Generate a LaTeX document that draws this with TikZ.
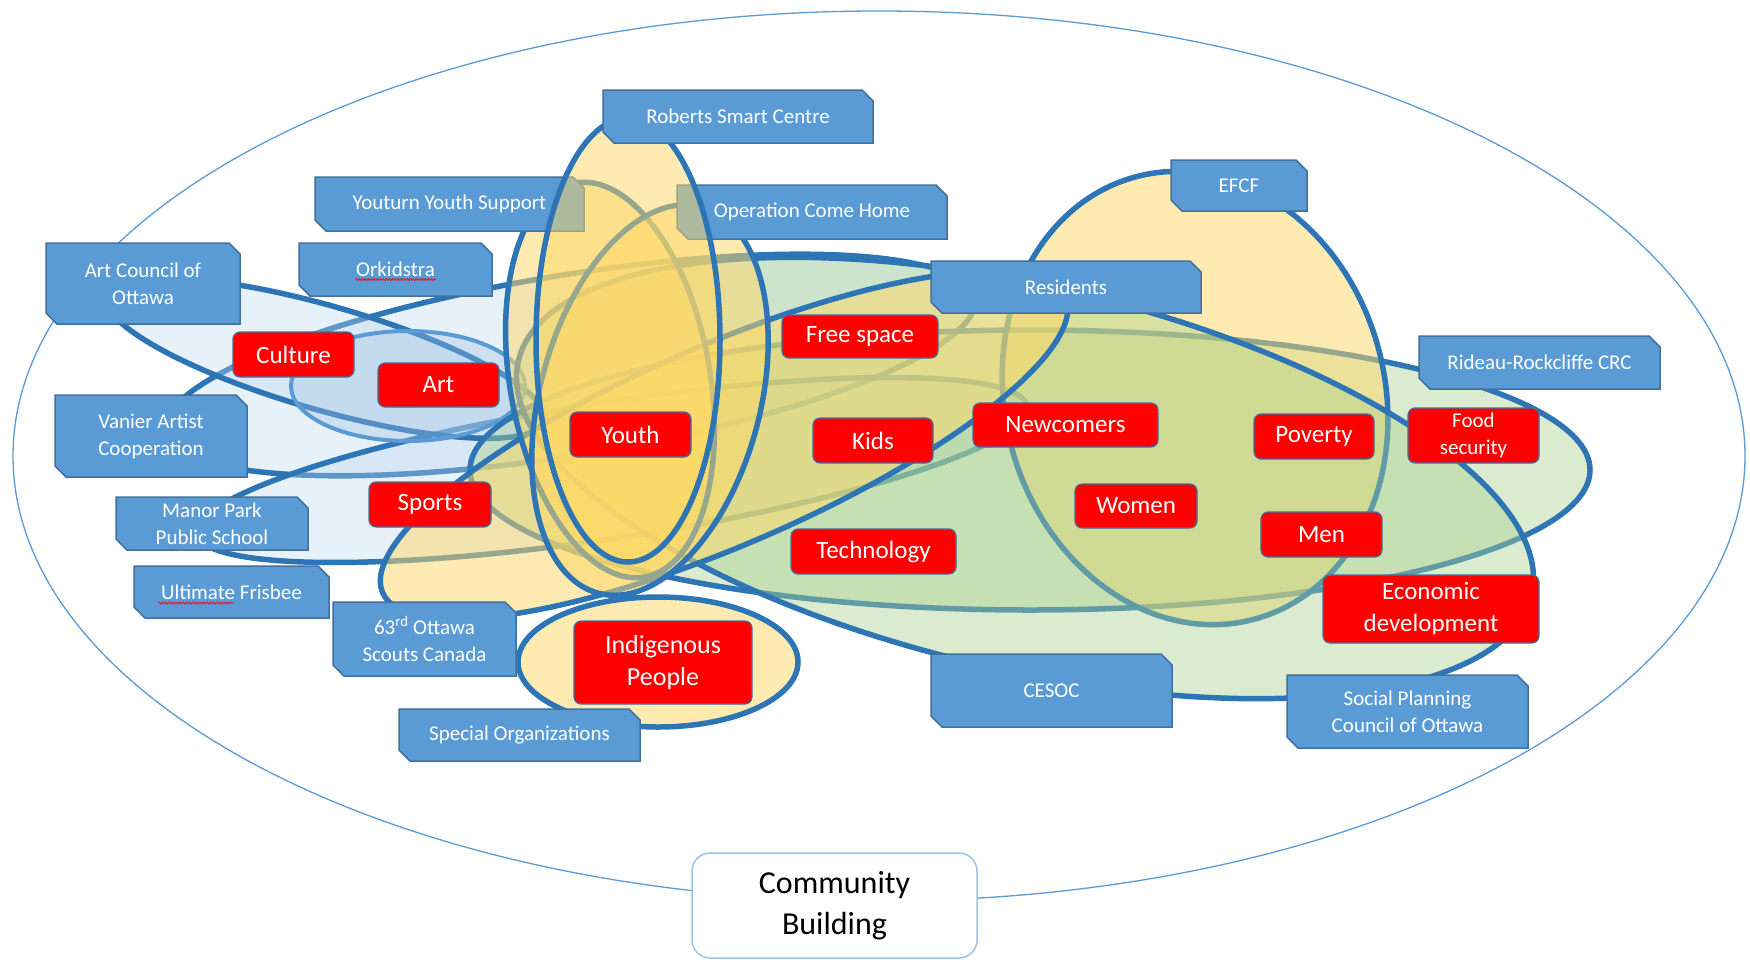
\documentclass[tikz,border=0pt]{standalone}
\usepackage{fontspec}
\setmainfont{Carlito}
\usetikzlibrary{calc,decorations.pathmorphing}
\definecolor{lineblue}{HTML}{2E75B6}
\definecolor{midblue}{HTML}{5B9BD5}
\definecolor{boxblue}{HTML}{5B9BD5}
\definecolor{boxedge}{HTML}{41719C}
\definecolor{paleblue}{HTML}{BDD7EE}
\definecolor{lightblue}{HTML}{9DC3E6}
\definecolor{fillgreen}{HTML}{A9D18E}
\definecolor{fillyellow}{HTML}{FFD966}
\definecolor{cbedge}{HTML}{9DC3E6}
\tikzset{
  ring/.style={draw=lineblue, line width=5.5pt},
  bluefill/.style={fill=paleblue, fill opacity=.35},
  greenfill/.style={fill=fillgreen, fill opacity=.42},
  yellowfill/.style={fill=fillyellow, fill opacity=.5},
  orgtext/.style={rectangle, inner sep=0pt, text=white, font=\fontsize{21}{27}\selectfont, align=center},
  redtag/.style={rectangle, rounded corners=7pt, fill=red, draw=boxedge, line width=1.2pt, text=white,
    font=\fontsize{25}{32}\selectfont, align=center, inner sep=0pt},
  cbbox/.style={rectangle, rounded corners=18pt, fill=white, draw=cbedge, line width=1.5pt, text=black,
    font=\fontsize{32}{41}\selectfont, align=center, inner sep=0pt},
  wavy/.style={draw=red, line width=0.7pt, decorate, decoration={snake, amplitude=1pt, segment length=3pt}}
}
\newcommand\orgbox[6]{%
  \filldraw[fill=boxblue, draw=boxedge, line width=1.5pt] (#2,#3) -- ({#4-11},#3) -- (#4,{#3+11}) -- (#4,#5) -- ({#2+11},#5) -- (#2,{#5-11}) -- cycle;
  \node[orgtext] (#1) at ({(#2+#4)/2},{(#3+#5)/2}) {#6};}
\newcommand\redbox[7][]{%
  \node[redtag, minimum width={#5pt-#3pt}, minimum height={#6pt-#4pt}, #1] (#2) at ({(#3+#5)/2},{(#4+#6)/2}) {#7};}
\begin{document}
\begin{tikzpicture}[x=1pt,y=-1pt]
\useasboundingbox (0,0) rectangle (1750,959);
\fill[white] (0,0) rectangle (1750,959);
% outer community ellipse
\draw[midblue, line width=1.3pt] (879,456) ellipse [x radius=866pt, y radius=445pt];
% blue (arts) cluster
\filldraw[ring, bluefill, shift={(570,365)}, rotate=9.3] (0,0) ellipse [x radius=410pt, y radius=90pt];
\filldraw[ring, bluefill, shift={(612,470)}, rotate=8.7] (0,0) ellipse [x radius=420pt, y radius=68pt];
\filldraw[ring, bluefill, shift={(325,358)}, rotate=-16] (0,0) ellipse [x radius=228pt, y radius=52pt];
\filldraw[draw=midblue, line width=4pt, fill=lightblue, fill opacity=.35] (408,386) ellipse [x radius=117pt, y radius=55pt];
% green / yellow cluster on the right
\filldraw[ring, greenfill] (1030,470) ellipse [x radius=560pt, y radius=140pt];
\filldraw[ring, yellowfill, shift={(1195,398)}, rotate=15] (0,0) ellipse [x radius=190pt, y radius=229pt];
\filldraw[ring, greenfill, shift={(1025,478)}, rotate=-13] (0,0) ellipse [x radius=520pt, y radius=192pt];
% yellow cluster round Youth
\filldraw[ring, yellowfill, shift={(724,445)}, rotate=23.4] (0,0) ellipse [x radius=372pt, y radius=100pt];
\filldraw[ring, yellowfill, shift={(610,380)}, rotate=10] (0,0) ellipse [x radius=100pt, y radius=200pt];
\filldraw[ring, yellowfill, shift={(650,400)}, rotate=-15] (0,0) ellipse [x radius=110pt, y radius=200pt];
\orgbox{yys}{315}{177}{584}{231}{Youturn Youth Support}
\orgbox{och}{677}{185}{947}{239}{Operation Come Home}
\filldraw[ring, yellowfill] (628,340) ellipse [x radius=92pt, y radius=222pt];
\filldraw[ring, fill=fillyellow, fill opacity=.5] (658,662) ellipse [x radius=140pt, y radius=65pt];
% organisation labels
\orgbox{rsc}{603}{90}{873}{143}{Roberts Smart Centre}
\orgbox{aco}{46}{243}{240}{324}{Art Council of\\Ottawa}
\orgbox{ork}{299}{243}{492}{296}{Orkidstra}
\orgbox{res}{931}{261}{1201}{313}{Residents}
\orgbox{efcf}{1171}{160}{1307}{211}{EFCF}
\orgbox{rrc}{1419}{336}{1660}{389}{Rideau-Rockcliffe CRC}
\orgbox{vac}{55}{395}{247}{477}{Vanier Artist\\Cooperation}
\orgbox{mpps}{116}{497}{308}{550}{Manor Park\\Public School}
\orgbox{uf}{134}{566}{329}{618}{Ultimate Frisbee}
\orgbox{scouts}{333}{602}{516}{676}{63\textsuperscript{rd} Ottawa\\Scouts Canada}
\orgbox{so}{399}{709}{640}{761}{Special Organizations}
\orgbox{cesoc}{931}{654}{1172}{727}{CESOC}
\orgbox{spco}{1287}{675}{1528}{748}{Social Planning\\Council of Ottawa}
% themes
\redbox{culture}{233}{332}{354}{377}{Culture}
\redbox{art}{378}{363}{499}{407}{Art}
\redbox{free}{782}{315}{938}{358}{Free space}
\redbox{youth}{570}{412}{691}{457}{Youth}
\redbox{kids}{813}{418}{933}{463}{Kids}
\redbox{newc}{973}{403}{1158}{447}{Newcomers}
\redbox{poverty}{1254}{414}{1374}{459}{Poverty}
\redbox[font=\fontsize{21}{27}\selectfont]{food}{1408}{408}{1539}{463}{Food\\security}
\redbox{women}{1075}{484}{1197}{528}{Women}
\redbox{men}{1261}{512}{1382}{557}{Men}
\redbox{econ}{1323}{575}{1539}{643}{Economic\\development}
\redbox{tech}{791}{529}{956}{574}{Technology}
\redbox{sports}{369}{482}{491}{527}{Sports}
\redbox[font=\fontsize{26}{32}\selectfont]{indig}{574}{621}{752}{704}{Indigenous\\People}
% title box
\node[cbbox, minimum width=285pt, minimum height=105pt] (cb) at (834.5,905.5) {Community\\Building};
% spell-check underlines
\draw[wavy] ($(ork.center)+(-40,10)$) -- ($(ork.center)+(40,10)$);
\draw[wavy] ($(uf.center)+(-73,11)$) -- ($(uf.center)+(2,11)$);
\draw[wavy] ($(food.center)+(-35,23)$) -- ($(food.center)+(35,23)$);
\draw[wavy] ($(econ.center)+(-51,-6)$) -- ($(econ.center)+(52,-6)$);
\draw[wavy] ($(econ.center)+(-69,26)$) -- ($(econ.center)+(73,26)$);
\end{tikzpicture}
\end{document}
